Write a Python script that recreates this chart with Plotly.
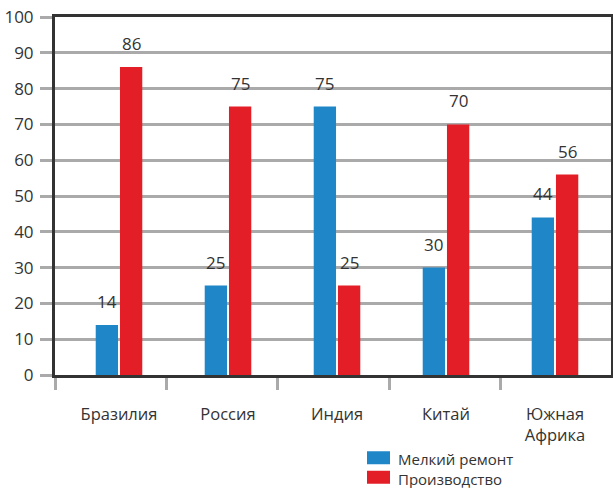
import plotly.graph_objects as go

countries = ["Бразилия", "Россия", "Индия", "Китай", "Южная<br>Африка"]
repair = [14, 25, 75, 30, 44]
production = [86, 75, 25, 70, 56]
series_names = ["Мелкий ремонт", "Производство"]
y_ticks = [0, 10, 20, 30, 40, 50, 60, 70, 80, 90, 100]

BLUE = "#1f86c8"
RED = "#e31e26"
TEXT = "#333333"
GRID = "#aaaaaa"
FONT = "Open Sans, Noto Sans, sans-serif"

# pixel geometry of the plotting frame (figure 613 x 488)
LEFT, RIGHT, TOP, BOTTOM = 55, 611, 17, 375
GROUP_STEP = 109          # px between neighbouring bar groups
FIRST_GROUP = 119         # px centre of the first group
CELL = (RIGHT - LEFT + 1) / 5


def px_to_x(px):
    return (px - FIRST_GROUP) / GROUP_STEP


x_pos = list(range(len(countries)))
bounds = [px_to_x(LEFT + k * CELL) for k in range(len(countries) + 1)]

fig = go.Figure()
fig.add_trace(go.Bar(x=x_pos, y=repair, name=series_names[0], marker_color=BLUE,
                     marker_line_width=0))
fig.add_trace(go.Bar(x=x_pos, y=production, name=series_names[1], marker_color=RED,
                     marker_line_width=0))

# value labels above each bar
half = 12.1 / GROUP_STEP
for i in x_pos:
    for vals, off in ((repair, -half), (production, half)):
        fig.add_annotation(x=i + off, y=vals[i], text=str(vals[i]), showarrow=False,
                           yanchor="bottom", yshift=10, xref="x", yref="y",
                           font=dict(family=FONT, size=17, color=TEXT))

# legend drawn below the chart: two swatches and one two-line label
pw, ph = RIGHT - LEFT, BOTTOM - TOP
LEG_TOP, LEG_FONT = 448, 15
line_h = LEG_FONT * 1.3
for k, color in enumerate((BLUE, RED)):
    mid = LEG_TOP + line_h * (k + 0.5)
    fig.add_shape(type="rect", xref="paper", yref="paper",
                  x0=(367 - LEFT) / pw, x1=(390 - LEFT) / pw,
                  y0=(BOTTOM - mid + 6.5) / ph, y1=(BOTTOM - mid - 6.5) / ph,
                  fillcolor=color, line_width=0)
fig.add_annotation(xref="paper", yref="paper", x=(397 - LEFT) / pw,
                   y=(BOTTOM - LEG_TOP) / ph, text="<br>".join(series_names),
                   showarrow=False, xanchor="left", yanchor="top", align="left",
                   borderpad=0, font=dict(family=FONT, size=LEG_FONT, color=TEXT))

fig.update_layout(
    width=613, height=488,
    margin=dict(l=LEFT, r=613 - RIGHT, t=TOP, b=488 - BOTTOM, autoexpand=False),
    paper_bgcolor="white", plot_bgcolor="white",
    barmode="group", bargap=0.555, bargroupgap=0.08,
    font=dict(family=FONT, color=TEXT),
    showlegend=False,
)
fig.update_xaxes(
    range=[px_to_x(LEFT), px_to_x(RIGHT)],
    tickvals=x_pos, ticktext=countries, ticks="",
    minor=dict(tickvals=bounds, ticks="outside", ticklen=12, tickwidth=3,
               tickcolor=GRID, showgrid=False),
    showline=True, linecolor=TEXT, linewidth=3, mirror=True, showgrid=False,
    zeroline=False, ticklabelstandoff=22, automargin=False,
    tickfont=dict(family=FONT, size=16.5, color=TEXT),
)
fig.update_yaxes(
    range=[0, 100], tickvals=y_ticks, ticks="outside", ticklen=12, tickwidth=3,
    tickcolor=GRID, showgrid=True, gridcolor=GRID, gridwidth=3, automargin=False,
    showline=True, linecolor=TEXT, linewidth=3, mirror=True, zeroline=False,
    ticklabelstandoff=3, tickfont=dict(family=FONT, size=17, color=TEXT),
)

fig.write_html("out.html")
